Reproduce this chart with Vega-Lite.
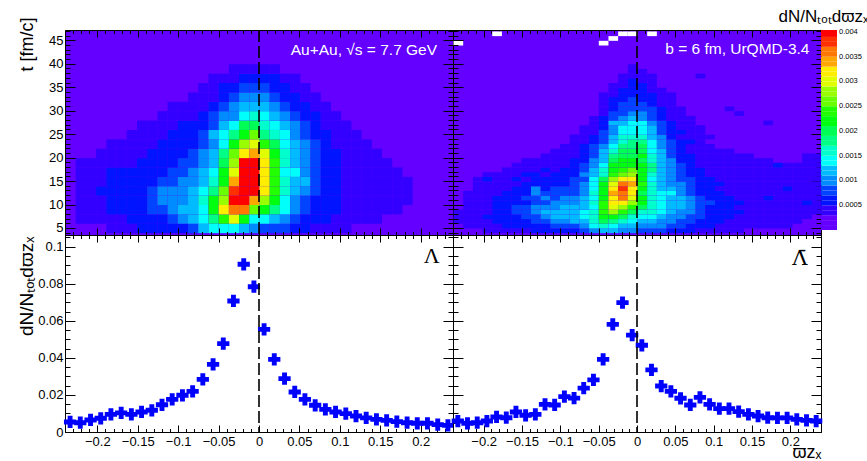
{
  "$schema": "https://vega.github.io/schema/vega-lite/v6.json",
  "padding": {"left": 16, "top": 6, "right": 0, "bottom": 0},
  "background": "white",
  "config": {
    "view": {"stroke": "black", "strokeWidth": 1, "fill": "white"},
    "axis": {"grid": false, "domain": false, "tickColor": "black", "tickWidth": 1, "labelColor": "black", "labelFont": "Liberation Sans", "labelFontSize": 13, "titleFont": "Liberation Sans", "titleFontWeight": "normal", "titleColor": "black", "labelOverlap": false, "labelFlush": false, "format": "~g"},
    "legend": {"labelFont": "Liberation Sans", "titleFont": "Liberation Sans", "titleFontWeight": "normal"}
  },
  "datasets": {
    "lam": [
      {"w": -0.2337, "n": 0.0054}, {"w": -0.2211, "n": 0.0050}, {"w": -0.2084, "n": 0.0065}, {"w": -0.1958, "n": 0.0074},
      {"w": -0.1832, "n": 0.0095}, {"w": -0.1705, "n": 0.0103}, {"w": -0.1579, "n": 0.0095}, {"w": -0.1453, "n": 0.0108},
      {"w": -0.1326, "n": 0.0117}, {"w": -0.1200, "n": 0.0147}, {"w": -0.1074, "n": 0.0176}, {"w": -0.0947, "n": 0.0198},
      {"w": -0.0821, "n": 0.0219}, {"w": -0.0695, "n": 0.0284}, {"w": -0.0568, "n": 0.0365}, {"w": -0.0442, "n": 0.0477},
      {"w": -0.0316, "n": 0.0707}, {"w": -0.0189, "n": 0.0905}, {"w": -0.0063, "n": 0.0784},
      {"w": 0.0063, "n": 0.0554}, {"w": 0.0189, "n": 0.0392}, {"w": 0.0316, "n": 0.0288}, {"w": 0.0442, "n": 0.0216},
      {"w": 0.0568, "n": 0.0176}, {"w": 0.0695, "n": 0.0144}, {"w": 0.0821, "n": 0.0122}, {"w": 0.0947, "n": 0.0108},
      {"w": 0.1074, "n": 0.0099}, {"w": 0.1200, "n": 0.0086}, {"w": 0.1326, "n": 0.0076}, {"w": 0.1453, "n": 0.0068},
      {"w": 0.1579, "n": 0.0063}, {"w": 0.1705, "n": 0.0056}, {"w": 0.1832, "n": 0.0050}, {"w": 0.1958, "n": 0.0047},
      {"w": 0.2084, "n": 0.0047}, {"w": 0.2211, "n": 0.0040}, {"w": 0.2337, "n": 0.0036}
    ],
    "alam": [
      {"w": -0.2337, "n": 0.0059}, {"w": -0.2211, "n": 0.0047}, {"w": -0.2084, "n": 0.0050}, {"w": -0.1958, "n": 0.0059},
      {"w": -0.1832, "n": 0.0081}, {"w": -0.1705, "n": 0.0077}, {"w": -0.1579, "n": 0.0108}, {"w": -0.1453, "n": 0.0090},
      {"w": -0.1326, "n": 0.0095}, {"w": -0.1200, "n": 0.0149}, {"w": -0.1074, "n": 0.0146}, {"w": -0.0947, "n": 0.0191},
      {"w": -0.0821, "n": 0.0183}, {"w": -0.0695, "n": 0.0237}, {"w": -0.0568, "n": 0.0281}, {"w": -0.0442, "n": 0.0392},
      {"w": -0.0316, "n": 0.0581}, {"w": -0.0189, "n": 0.0698}, {"w": -0.0063, "n": 0.0523},
      {"w": 0.0063, "n": 0.0468}, {"w": 0.0189, "n": 0.0335}, {"w": 0.0316, "n": 0.0248}, {"w": 0.0442, "n": 0.0219},
      {"w": 0.0568, "n": 0.0182}, {"w": 0.0695, "n": 0.0146}, {"w": 0.0821, "n": 0.0187}, {"w": 0.0947, "n": 0.0149},
      {"w": 0.1074, "n": 0.0126}, {"w": 0.1200, "n": 0.0126}, {"w": 0.1326, "n": 0.0110}, {"w": 0.1453, "n": 0.0095},
      {"w": 0.1579, "n": 0.0086}, {"w": 0.1705, "n": 0.0077}, {"w": 0.1832, "n": 0.0076}, {"w": 0.1958, "n": 0.0076},
      {"w": 0.2084, "n": 0.0068}, {"w": 0.2211, "n": 0.0063}, {"w": 0.2337, "n": 0.0059}
    ],
    "hL": [
{"w":-0.183,"t":5,"v":0.0003},{"w":-0.171,"t":5,"v":0.0003},{"w":-0.158,"t":5,"v":0.0003},{"w":-0.145,"t":5,"v":0.0005},{"w":-0.133,"t":5,"v":0.0005},{"w":-0.12,"t":5,"v":0.0005},{"w":-0.107,"t":5,"v":0.0005},{"w":-0.095,"t":5,"v":0.0005},{"w":-0.082,"t":5,"v":0.0007},{"w":-0.069,"t":5,"v":0.0011},{"w":-0.057,"t":5,"v":0.0013},{"w":-0.044,"t":5,"v":0.0013},{"w":-0.032,"t":5,"v":0.0013},{"w":-0.019,"t":5,"v":0.0011},{"w":-0.006,"t":5,"v":0.0009},{"w":0.006,"t":5,"v":0.0007},{"w":0.019,"t":5,"v":0.0007},{"w":0.032,"t":5,"v":0.0007},{"w":0.044,"t":5,"v":0.0005},{"w":0.057,"t":5,"v":0.0005},{"w":0.069,"t":5,"v":0.0003},{"w":0.082,"t":5,"v":0.0003},{"w":0.095,"t":5,"v":0.0003},{"w":0.107,"t":5,"v":0.0003},
{"w":-0.221,"t":7,"v":0.0003},{"w":-0.208,"t":7,"v":0.0003},{"w":-0.196,"t":7,"v":0.0003},{"w":-0.183,"t":7,"v":0.0003},{"w":-0.171,"t":7,"v":0.0003},{"w":-0.158,"t":7,"v":0.0005},{"w":-0.145,"t":7,"v":0.0005},{"w":-0.133,"t":7,"v":0.0005},{"w":-0.12,"t":7,"v":0.0005},{"w":-0.107,"t":7,"v":0.0007},{"w":-0.095,"t":7,"v":0.0009},{"w":-0.082,"t":7,"v":0.0011},{"w":-0.069,"t":7,"v":0.0013},{"w":-0.057,"t":7,"v":0.0017},{"w":-0.044,"t":7,"v":0.0023},{"w":-0.032,"t":7,"v":0.0029},{"w":-0.019,"t":7,"v":0.0021},{"w":-0.006,"t":7,"v":0.0013},{"w":0.006,"t":7,"v":0.0013},{"w":0.019,"t":7,"v":0.0011},{"w":0.032,"t":7,"v":0.0009},{"w":0.044,"t":7,"v":0.0007},{"w":0.057,"t":7,"v":0.0005},{"w":0.069,"t":7,"v":0.0005},{"w":0.082,"t":7,"v":0.0005},{"w":0.095,"t":7,"v":0.0003},{"w":0.107,"t":7,"v":0.0003},{"w":0.12,"t":7,"v":0.0003},{"w":0.133,"t":7,"v":0.0003},{"w":0.145,"t":7,"v":0.0003},
{"w":-0.221,"t":9,"v":0.0003},{"w":-0.208,"t":9,"v":0.0003},{"w":-0.196,"t":9,"v":0.0003},{"w":-0.183,"t":9,"v":0.0005},{"w":-0.171,"t":9,"v":0.0005},{"w":-0.158,"t":9,"v":0.0005},{"w":-0.145,"t":9,"v":0.0005},{"w":-0.133,"t":9,"v":0.0007},{"w":-0.12,"t":9,"v":0.0007},{"w":-0.107,"t":9,"v":0.0009},{"w":-0.095,"t":9,"v":0.0011},{"w":-0.082,"t":9,"v":0.0011},{"w":-0.069,"t":9,"v":0.0013},{"w":-0.057,"t":9,"v":0.0021},{"w":-0.044,"t":9,"v":0.0031},{"w":-0.032,"t":9,"v":0.0035},{"w":-0.019,"t":9,"v":0.0035},{"w":-0.006,"t":9,"v":0.0025},{"w":0.006,"t":9,"v":0.0021},{"w":0.019,"t":9,"v":0.0017},{"w":0.032,"t":9,"v":0.0013},{"w":0.044,"t":9,"v":0.0009},{"w":0.057,"t":9,"v":0.0007},{"w":0.069,"t":9,"v":0.0005},{"w":0.082,"t":9,"v":0.0005},{"w":0.095,"t":9,"v":0.0005},{"w":0.107,"t":9,"v":0.0003},{"w":0.12,"t":9,"v":0.0003},{"w":0.133,"t":9,"v":0.0003},{"w":0.145,"t":9,"v":0.0003},{"w":0.158,"t":9,"v":0.0003},{"w":0.171,"t":9,"v":0.0003},
{"w":-0.221,"t":11,"v":0.0003},{"w":-0.208,"t":11,"v":0.0003},{"w":-0.196,"t":11,"v":0.0003},{"w":-0.183,"t":11,"v":0.0005},{"w":-0.171,"t":11,"v":0.0005},{"w":-0.158,"t":11,"v":0.0005},{"w":-0.145,"t":11,"v":0.0005},{"w":-0.133,"t":11,"v":0.0007},{"w":-0.12,"t":11,"v":0.0009},{"w":-0.107,"t":11,"v":0.0009},{"w":-0.095,"t":11,"v":0.0009},{"w":-0.082,"t":11,"v":0.0011},{"w":-0.069,"t":11,"v":0.0015},{"w":-0.057,"t":11,"v":0.0021},{"w":-0.044,"t":11,"v":0.0027},{"w":-0.032,"t":11,"v":0.0039},{"w":-0.019,"t":11,"v":0.0039},{"w":-0.006,"t":11,"v":0.0033},{"w":0.006,"t":11,"v":0.0027},{"w":0.019,"t":11,"v":0.0021},{"w":0.032,"t":11,"v":0.0013},{"w":0.044,"t":11,"v":0.0009},{"w":0.057,"t":11,"v":0.0007},{"w":0.069,"t":11,"v":0.0005},{"w":0.082,"t":11,"v":0.0005},{"w":0.095,"t":11,"v":0.0005},{"w":0.107,"t":11,"v":0.0003},{"w":0.12,"t":11,"v":0.0003},{"w":0.133,"t":11,"v":0.0003},{"w":0.145,"t":11,"v":0.0003},{"w":0.158,"t":11,"v":0.0003},{"w":0.171,"t":11,"v":0.0003},{"w":0.183,"t":11,"v":0.0003},
{"w":-0.221,"t":13,"v":0.0003},{"w":-0.208,"t":13,"v":0.0003},{"w":-0.196,"t":13,"v":0.0005},{"w":-0.183,"t":13,"v":0.0005},{"w":-0.171,"t":13,"v":0.0005},{"w":-0.158,"t":13,"v":0.0005},{"w":-0.145,"t":13,"v":0.0005},{"w":-0.133,"t":13,"v":0.0007},{"w":-0.12,"t":13,"v":0.0009},{"w":-0.107,"t":13,"v":0.0009},{"w":-0.095,"t":13,"v":0.0009},{"w":-0.082,"t":13,"v":0.0011},{"w":-0.069,"t":13,"v":0.0013},{"w":-0.057,"t":13,"v":0.0017},{"w":-0.044,"t":13,"v":0.0025},{"w":-0.032,"t":13,"v":0.0037},{"w":-0.019,"t":13,"v":0.0039},{"w":-0.006,"t":13,"v":0.0039},{"w":0.006,"t":13,"v":0.0031},{"w":0.019,"t":13,"v":0.0023},{"w":0.032,"t":13,"v":0.0015},{"w":0.044,"t":13,"v":0.0011},{"w":0.057,"t":13,"v":0.0009},{"w":0.069,"t":13,"v":0.0007},{"w":0.082,"t":13,"v":0.0005},{"w":0.095,"t":13,"v":0.0005},{"w":0.107,"t":13,"v":0.0003},{"w":0.12,"t":13,"v":0.0003},{"w":0.133,"t":13,"v":0.0003},{"w":0.145,"t":13,"v":0.0003},{"w":0.158,"t":13,"v":0.0003},{"w":0.171,"t":13,"v":0.0003},{"w":0.183,"t":13,"v":0.0003},
{"w":-0.221,"t":15,"v":0.0003},{"w":-0.208,"t":15,"v":0.0003},{"w":-0.196,"t":15,"v":0.0003},{"w":-0.183,"t":15,"v":0.0005},{"w":-0.171,"t":15,"v":0.0005},{"w":-0.158,"t":15,"v":0.0005},{"w":-0.145,"t":15,"v":0.0005},{"w":-0.133,"t":15,"v":0.0005},{"w":-0.12,"t":15,"v":0.0007},{"w":-0.107,"t":15,"v":0.0007},{"w":-0.095,"t":15,"v":0.0009},{"w":-0.082,"t":15,"v":0.0009},{"w":-0.069,"t":15,"v":0.0011},{"w":-0.057,"t":15,"v":0.0015},{"w":-0.044,"t":15,"v":0.0021},{"w":-0.032,"t":15,"v":0.0033},{"w":-0.019,"t":15,"v":0.0039},{"w":-0.006,"t":15,"v":0.0039},{"w":0.006,"t":15,"v":0.0031},{"w":0.019,"t":15,"v":0.0023},{"w":0.032,"t":15,"v":0.0015},{"w":0.044,"t":15,"v":0.0011},{"w":0.057,"t":15,"v":0.0011},{"w":0.069,"t":15,"v":0.0007},{"w":0.082,"t":15,"v":0.0005},{"w":0.095,"t":15,"v":0.0005},{"w":0.107,"t":15,"v":0.0003},{"w":0.12,"t":15,"v":0.0003},{"w":0.133,"t":15,"v":0.0003},{"w":0.145,"t":15,"v":0.0003},{"w":0.158,"t":15,"v":0.0003},{"w":0.171,"t":15,"v":0.0003},{"w":0.183,"t":15,"v":0.0003},
{"w":-0.221,"t":17,"v":0.0003},{"w":-0.208,"t":17,"v":0.0003},{"w":-0.196,"t":17,"v":0.0003},{"w":-0.183,"t":17,"v":0.0005},{"w":-0.171,"t":17,"v":0.0005},{"w":-0.158,"t":17,"v":0.0005},{"w":-0.145,"t":17,"v":0.0005},{"w":-0.133,"t":17,"v":0.0005},{"w":-0.12,"t":17,"v":0.0005},{"w":-0.107,"t":17,"v":0.0007},{"w":-0.095,"t":17,"v":0.0007},{"w":-0.082,"t":17,"v":0.0009},{"w":-0.069,"t":17,"v":0.0011},{"w":-0.057,"t":17,"v":0.0013},{"w":-0.044,"t":17,"v":0.0021},{"w":-0.032,"t":17,"v":0.0029},{"w":-0.019,"t":17,"v":0.0039},{"w":-0.006,"t":17,"v":0.0039},{"w":0.006,"t":17,"v":0.0031},{"w":0.019,"t":17,"v":0.0023},{"w":0.032,"t":17,"v":0.0013},{"w":0.044,"t":17,"v":0.0013},{"w":0.057,"t":17,"v":0.0009},{"w":0.069,"t":17,"v":0.0007},{"w":0.082,"t":17,"v":0.0005},{"w":0.095,"t":17,"v":0.0005},{"w":0.107,"t":17,"v":0.0003},{"w":0.12,"t":17,"v":0.0003},{"w":0.133,"t":17,"v":0.0003},{"w":0.145,"t":17,"v":0.0003},{"w":0.158,"t":17,"v":0.0003},{"w":0.171,"t":17,"v":0.0003},
{"w":-0.221,"t":19,"v":0.0003},{"w":-0.208,"t":19,"v":0.0003},{"w":-0.196,"t":19,"v":0.0003},{"w":-0.183,"t":19,"v":0.0003},{"w":-0.171,"t":19,"v":0.0003},{"w":-0.158,"t":19,"v":0.0003},{"w":-0.145,"t":19,"v":0.0005},{"w":-0.133,"t":19,"v":0.0005},{"w":-0.12,"t":19,"v":0.0005},{"w":-0.107,"t":19,"v":0.0005},{"w":-0.095,"t":19,"v":0.0007},{"w":-0.082,"t":19,"v":0.0007},{"w":-0.069,"t":19,"v":0.0009},{"w":-0.057,"t":19,"v":0.0011},{"w":-0.044,"t":19,"v":0.0019},{"w":-0.032,"t":19,"v":0.0027},{"w":-0.019,"t":19,"v":0.0039},{"w":-0.006,"t":19,"v":0.0039},{"w":0.006,"t":19,"v":0.0031},{"w":0.019,"t":19,"v":0.0023},{"w":0.032,"t":19,"v":0.0015},{"w":0.044,"t":19,"v":0.0011},{"w":0.057,"t":19,"v":0.0009},{"w":0.069,"t":19,"v":0.0007},{"w":0.082,"t":19,"v":0.0005},{"w":0.095,"t":19,"v":0.0005},{"w":0.107,"t":19,"v":0.0003},{"w":0.12,"t":19,"v":0.0003},{"w":0.133,"t":19,"v":0.0003},{"w":0.145,"t":19,"v":0.0003},{"w":0.158,"t":19,"v":0.0003},
{"w":-0.196,"t":21,"v":0.0003},{"w":-0.183,"t":21,"v":0.0003},{"w":-0.171,"t":21,"v":0.0003},{"w":-0.158,"t":21,"v":0.0003},{"w":-0.145,"t":21,"v":0.0003},{"w":-0.133,"t":21,"v":0.0005},{"w":-0.12,"t":21,"v":0.0005},{"w":-0.107,"t":21,"v":0.0005},{"w":-0.095,"t":21,"v":0.0005},{"w":-0.082,"t":21,"v":0.0007},{"w":-0.069,"t":21,"v":0.0009},{"w":-0.057,"t":21,"v":0.0011},{"w":-0.044,"t":21,"v":0.0017},{"w":-0.032,"t":21,"v":0.0025},{"w":-0.019,"t":21,"v":0.0031},{"w":-0.006,"t":21,"v":0.0033},{"w":0.006,"t":21,"v":0.0029},{"w":0.019,"t":21,"v":0.0021},{"w":0.032,"t":21,"v":0.0015},{"w":0.044,"t":21,"v":0.0011},{"w":0.057,"t":21,"v":0.0009},{"w":0.069,"t":21,"v":0.0007},{"w":0.082,"t":21,"v":0.0005},{"w":0.095,"t":21,"v":0.0005},{"w":0.107,"t":21,"v":0.0003},{"w":0.12,"t":21,"v":0.0003},{"w":0.133,"t":21,"v":0.0003},{"w":0.145,"t":21,"v":0.0003},
{"w":-0.183,"t":23,"v":0.0003},{"w":-0.171,"t":23,"v":0.0003},{"w":-0.158,"t":23,"v":0.0003},{"w":-0.145,"t":23,"v":0.0003},{"w":-0.133,"t":23,"v":0.0003},{"w":-0.12,"t":23,"v":0.0005},{"w":-0.107,"t":23,"v":0.0005},{"w":-0.095,"t":23,"v":0.0005},{"w":-0.082,"t":23,"v":0.0005},{"w":-0.069,"t":23,"v":0.0007},{"w":-0.057,"t":23,"v":0.0009},{"w":-0.044,"t":23,"v":0.0013},{"w":-0.032,"t":23,"v":0.0021},{"w":-0.019,"t":23,"v":0.0027},{"w":-0.006,"t":23,"v":0.0029},{"w":0.006,"t":23,"v":0.0023},{"w":0.019,"t":23,"v":0.0019},{"w":0.032,"t":23,"v":0.0013},{"w":0.044,"t":23,"v":0.0011},{"w":0.057,"t":23,"v":0.0009},{"w":0.069,"t":23,"v":0.0007},{"w":0.082,"t":23,"v":0.0005},{"w":0.095,"t":23,"v":0.0003},{"w":0.107,"t":23,"v":0.0003},{"w":0.12,"t":23,"v":0.0003},{"w":0.133,"t":23,"v":0.0003},
{"w":-0.158,"t":25,"v":0.0003},{"w":-0.145,"t":25,"v":0.0003},{"w":-0.133,"t":25,"v":0.0003},{"w":-0.12,"t":25,"v":0.0003},{"w":-0.107,"t":25,"v":0.0005},{"w":-0.095,"t":25,"v":0.0005},{"w":-0.082,"t":25,"v":0.0005},{"w":-0.069,"t":25,"v":0.0007},{"w":-0.057,"t":25,"v":0.0011},{"w":-0.044,"t":25,"v":0.0013},{"w":-0.032,"t":25,"v":0.0017},{"w":-0.019,"t":25,"v":0.0021},{"w":-0.006,"t":25,"v":0.0025},{"w":0.006,"t":25,"v":0.0017},{"w":0.019,"t":25,"v":0.0015},{"w":0.032,"t":25,"v":0.0013},{"w":0.044,"t":25,"v":0.0009},{"w":0.057,"t":25,"v":0.0007},{"w":0.069,"t":25,"v":0.0005},{"w":0.082,"t":25,"v":0.0005},{"w":0.095,"t":25,"v":0.0003},{"w":0.107,"t":25,"v":0.0003},{"w":0.12,"t":25,"v":0.0003},
{"w":-0.145,"t":27,"v":0.0003},{"w":-0.133,"t":27,"v":0.0003},{"w":-0.12,"t":27,"v":0.0003},{"w":-0.107,"t":27,"v":0.0003},{"w":-0.095,"t":27,"v":0.0005},{"w":-0.082,"t":27,"v":0.0005},{"w":-0.069,"t":27,"v":0.0005},{"w":-0.057,"t":27,"v":0.0007},{"w":-0.044,"t":27,"v":0.0011},{"w":-0.032,"t":27,"v":0.0013},{"w":-0.019,"t":27,"v":0.0019},{"w":-0.006,"t":27,"v":0.0019},{"w":0.006,"t":27,"v":0.0015},{"w":0.019,"t":27,"v":0.0013},{"w":0.032,"t":27,"v":0.0011},{"w":0.044,"t":27,"v":0.0009},{"w":0.057,"t":27,"v":0.0007},{"w":0.069,"t":27,"v":0.0005},{"w":0.082,"t":27,"v":0.0003},{"w":0.095,"t":27,"v":0.0003},{"w":0.107,"t":27,"v":0.0003},
{"w":-0.12,"t":29,"v":0.0003},{"w":-0.107,"t":29,"v":0.0003},{"w":-0.095,"t":29,"v":0.0003},{"w":-0.082,"t":29,"v":0.0003},{"w":-0.069,"t":29,"v":0.0005},{"w":-0.057,"t":29,"v":0.0007},{"w":-0.044,"t":29,"v":0.0009},{"w":-0.032,"t":29,"v":0.0009},{"w":-0.019,"t":29,"v":0.0013},{"w":-0.006,"t":29,"v":0.0015},{"w":0.006,"t":29,"v":0.0013},{"w":0.019,"t":29,"v":0.0011},{"w":0.032,"t":29,"v":0.0009},{"w":0.044,"t":29,"v":0.0007},{"w":0.057,"t":29,"v":0.0005},{"w":0.069,"t":29,"v":0.0005},{"w":0.082,"t":29,"v":0.0003},{"w":0.095,"t":29,"v":0.0003},
{"w":-0.107,"t":31,"v":0.0003},{"w":-0.095,"t":31,"v":0.0003},{"w":-0.082,"t":31,"v":0.0003},{"w":-0.069,"t":31,"v":0.0003},{"w":-0.057,"t":31,"v":0.0005},{"w":-0.044,"t":31,"v":0.0007},{"w":-0.032,"t":31,"v":0.0009},{"w":-0.019,"t":31,"v":0.0011},{"w":-0.006,"t":31,"v":0.0011},{"w":0.006,"t":31,"v":0.0011},{"w":0.019,"t":31,"v":0.0009},{"w":0.032,"t":31,"v":0.0007},{"w":0.044,"t":31,"v":0.0005},{"w":0.057,"t":31,"v":0.0005},{"w":0.069,"t":31,"v":0.0003},{"w":0.082,"t":31,"v":0.0003},
{"w":-0.082,"t":33,"v":0.0003},{"w":-0.069,"t":33,"v":0.0003},{"w":-0.057,"t":33,"v":0.0003},{"w":-0.044,"t":33,"v":0.0005},{"w":-0.032,"t":33,"v":0.0007},{"w":-0.019,"t":33,"v":0.0009},{"w":-0.006,"t":33,"v":0.0009},{"w":0.006,"t":33,"v":0.0009},{"w":0.019,"t":33,"v":0.0007},{"w":0.032,"t":33,"v":0.0005},{"w":0.044,"t":33,"v":0.0005},{"w":0.057,"t":33,"v":0.0003},{"w":0.069,"t":33,"v":0.0003},
{"w":-0.069,"t":35,"v":0.0003},{"w":-0.057,"t":35,"v":0.0003},{"w":-0.044,"t":35,"v":0.0005},{"w":-0.032,"t":35,"v":0.0005},{"w":-0.019,"t":35,"v":0.0007},{"w":-0.006,"t":35,"v":0.0007},{"w":0.006,"t":35,"v":0.0007},{"w":0.019,"t":35,"v":0.0005},{"w":0.032,"t":35,"v":0.0005},{"w":0.044,"t":35,"v":0.0003},{"w":0.057,"t":35,"v":0.0003},
{"w":-0.057,"t":37,"v":0.0003},{"w":-0.044,"t":37,"v":0.0003},{"w":-0.032,"t":37,"v":0.0003},{"w":-0.019,"t":37,"v":0.0005},{"w":-0.006,"t":37,"v":0.0005},{"w":0.006,"t":37,"v":0.0005},{"w":0.019,"t":37,"v":0.0005},{"w":0.032,"t":37,"v":0.0003},{"w":0.044,"t":37,"v":0.0003},
{"w":-0.032,"t":39,"v":0.0003},{"w":-0.019,"t":39,"v":0.0003},{"w":-0.006,"t":39,"v":0.0003},{"w":0.006,"t":39,"v":0.0003},{"w":0.019,"t":39,"v":0.0003}
    ],
    "hA": [
{"w":-0.196,"t":4.5,"v":0.0003},{"w":-0.183,"t":4.5,"v":0.0003},{"w":-0.171,"t":4.5,"v":0.0003},{"w":-0.158,"t":4.5,"v":0.0003},{"w":-0.145,"t":4.5,"v":0.0003},{"w":-0.133,"t":4.5,"v":0.0005},{"w":-0.12,"t":4.5,"v":0.0005},{"w":-0.107,"t":4.5,"v":0.0005},{"w":-0.095,"t":4.5,"v":0.0005},{"w":-0.082,"t":4.5,"v":0.0005},{"w":-0.069,"t":4.5,"v":0.0007},{"w":-0.057,"t":4.5,"v":0.0009},{"w":-0.044,"t":4.5,"v":0.0011},{"w":-0.032,"t":4.5,"v":0.0011},{"w":-0.019,"t":4.5,"v":0.0009},{"w":-0.006,"t":4.5,"v":0.0009},{"w":0.006,"t":4.5,"v":0.0007},{"w":0.019,"t":4.5,"v":0.0007},{"w":0.032,"t":4.5,"v":0.0007},{"w":0.044,"t":4.5,"v":0.0005},{"w":0.057,"t":4.5,"v":0.0005},{"w":0.069,"t":4.5,"v":0.0005},{"w":0.082,"t":4.5,"v":0.0003},{"w":0.095,"t":4.5,"v":0.0003},{"w":0.107,"t":4.5,"v":0.0003},{"w":0.12,"t":4.5,"v":0.0003},{"w":0.133,"t":4.5,"v":0.0003},
{"w":-0.221,"t":5.5,"v":0.0003},{"w":-0.208,"t":5.5,"v":0.0003},{"w":-0.196,"t":5.5,"v":0.0003},{"w":-0.183,"t":5.5,"v":0.0003},{"w":-0.171,"t":5.5,"v":0.0005},{"w":-0.158,"t":5.5,"v":0.0005},{"w":-0.145,"t":5.5,"v":0.0005},{"w":-0.133,"t":5.5,"v":0.0005},{"w":-0.12,"t":5.5,"v":0.0005},{"w":-0.107,"t":5.5,"v":0.0007},{"w":-0.095,"t":5.5,"v":0.0007},{"w":-0.082,"t":5.5,"v":0.0007},{"w":-0.069,"t":5.5,"v":0.0009},{"w":-0.057,"t":5.5,"v":0.0013},{"w":-0.044,"t":5.5,"v":0.0015},{"w":-0.032,"t":5.5,"v":0.0013},{"w":-0.019,"t":5.5,"v":0.0011},{"w":-0.006,"t":5.5,"v":0.0011},{"w":0.006,"t":5.5,"v":0.0009},{"w":0.019,"t":5.5,"v":0.0009},{"w":0.032,"t":5.5,"v":0.0009},{"w":0.044,"t":5.5,"v":0.0007},{"w":0.057,"t":5.5,"v":0.0007},{"w":0.069,"t":5.5,"v":0.0005},{"w":0.082,"t":5.5,"v":0.0005},{"w":0.095,"t":5.5,"v":0.0005},{"w":0.107,"t":5.5,"v":0.0003},{"w":0.12,"t":5.5,"v":0.0003},{"w":0.133,"t":5.5,"v":0.0003},{"w":0.145,"t":5.5,"v":0.0003},{"w":0.158,"t":5.5,"v":0.0003},{"w":0.171,"t":5.5,"v":0.0003},{"w":0.183,"t":5.5,"v":0.0003},{"w":0.196,"t":5.5,"v":0.0003},
{"w":-0.234,"t":6.5,"v":0.0003},{"w":-0.221,"t":6.5,"v":0.0003},{"w":-0.208,"t":6.5,"v":0.0003},{"w":-0.196,"t":6.5,"v":0.0003},{"w":-0.183,"t":6.5,"v":0.0005},{"w":-0.171,"t":6.5,"v":0.0005},{"w":-0.158,"t":6.5,"v":0.0005},{"w":-0.145,"t":6.5,"v":0.0005},{"w":-0.133,"t":6.5,"v":0.0007},{"w":-0.12,"t":6.5,"v":0.0007},{"w":-0.107,"t":6.5,"v":0.0009},{"w":-0.095,"t":6.5,"v":0.0009},{"w":-0.082,"t":6.5,"v":0.0011},{"w":-0.069,"t":6.5,"v":0.0011},{"w":-0.057,"t":6.5,"v":0.0015},{"w":-0.044,"t":6.5,"v":0.0019},{"w":-0.032,"t":6.5,"v":0.0017},{"w":-0.019,"t":6.5,"v":0.0015},{"w":-0.006,"t":6.5,"v":0.0013},{"w":0.006,"t":6.5,"v":0.0011},{"w":0.019,"t":6.5,"v":0.0011},{"w":0.032,"t":6.5,"v":0.0009},{"w":0.044,"t":6.5,"v":0.0009},{"w":0.057,"t":6.5,"v":0.0007},{"w":0.069,"t":6.5,"v":0.0007},{"w":0.082,"t":6.5,"v":0.0005},{"w":0.095,"t":6.5,"v":0.0005},{"w":0.107,"t":6.5,"v":0.0005},{"w":0.12,"t":6.5,"v":0.0003},{"w":0.133,"t":6.5,"v":0.0003},{"w":0.145,"t":6.5,"v":0.0003},{"w":0.158,"t":6.5,"v":0.0003},{"w":0.171,"t":6.5,"v":0.0003},{"w":0.183,"t":6.5,"v":0.0003},{"w":0.196,"t":6.5,"v":0.0003},{"w":0.208,"t":6.5,"v":0.0003},
{"w":-0.234,"t":7.5,"v":0.0003},{"w":-0.221,"t":7.5,"v":0.0003},{"w":-0.208,"t":7.5,"v":0.0003},{"w":-0.196,"t":7.5,"v":0.0005},{"w":-0.183,"t":7.5,"v":0.0005},{"w":-0.171,"t":7.5,"v":0.0005},{"w":-0.158,"t":7.5,"v":0.0005},{"w":-0.145,"t":7.5,"v":0.0007},{"w":-0.133,"t":7.5,"v":0.0007},{"w":-0.12,"t":7.5,"v":0.0009},{"w":-0.107,"t":7.5,"v":0.0011},{"w":-0.095,"t":7.5,"v":0.0011},{"w":-0.082,"t":7.5,"v":0.0011},{"w":-0.069,"t":7.5,"v":0.0013},{"w":-0.057,"t":7.5,"v":0.0015},{"w":-0.044,"t":7.5,"v":0.0021},{"w":-0.032,"t":7.5,"v":0.0021},{"w":-0.019,"t":7.5,"v":0.0019},{"w":-0.006,"t":7.5,"v":0.0015},{"w":0.006,"t":7.5,"v":0.0013},{"w":0.019,"t":7.5,"v":0.0013},{"w":0.032,"t":7.5,"v":0.0011},{"w":0.044,"t":7.5,"v":0.0009},{"w":0.057,"t":7.5,"v":0.0009},{"w":0.069,"t":7.5,"v":0.0007},{"w":0.082,"t":7.5,"v":0.0007},{"w":0.095,"t":7.5,"v":0.0005},{"w":0.107,"t":7.5,"v":0.0005},{"w":0.12,"t":7.5,"v":0.0005},{"w":0.133,"t":7.5,"v":0.0003},{"w":0.145,"t":7.5,"v":0.0003},{"w":0.158,"t":7.5,"v":0.0003},{"w":0.171,"t":7.5,"v":0.0003},{"w":0.183,"t":7.5,"v":0.0003},{"w":0.196,"t":7.5,"v":0.0003},{"w":0.208,"t":7.5,"v":0.0003},{"w":0.221,"t":7.5,"v":0.0003},
{"w":-0.234,"t":8.5,"v":0.0003},{"w":-0.221,"t":8.5,"v":0.0003},{"w":-0.208,"t":8.5,"v":0.0003},{"w":-0.196,"t":8.5,"v":0.0003},{"w":-0.183,"t":8.5,"v":0.0005},{"w":-0.171,"t":8.5,"v":0.0005},{"w":-0.158,"t":8.5,"v":0.0007},{"w":-0.145,"t":8.5,"v":0.0007},{"w":-0.133,"t":8.5,"v":0.0009},{"w":-0.12,"t":8.5,"v":0.0011},{"w":-0.107,"t":8.5,"v":0.0011},{"w":-0.095,"t":8.5,"v":0.0011},{"w":-0.082,"t":8.5,"v":0.0011},{"w":-0.069,"t":8.5,"v":0.0013},{"w":-0.057,"t":8.5,"v":0.0015},{"w":-0.044,"t":8.5,"v":0.0023},{"w":-0.032,"t":8.5,"v":0.0027},{"w":-0.019,"t":8.5,"v":0.0023},{"w":-0.006,"t":8.5,"v":0.0019},{"w":0.006,"t":8.5,"v":0.0015},{"w":0.019,"t":8.5,"v":0.0015},{"w":0.032,"t":8.5,"v":0.0013},{"w":0.044,"t":8.5,"v":0.0011},{"w":0.057,"t":8.5,"v":0.0009},{"w":0.069,"t":8.5,"v":0.0009},{"w":0.082,"t":8.5,"v":0.0007},{"w":0.095,"t":8.5,"v":0.0005},{"w":0.107,"t":8.5,"v":0.0005},{"w":0.12,"t":8.5,"v":0.0005},{"w":0.133,"t":8.5,"v":0.0005},{"w":0.145,"t":8.5,"v":0.0003},{"w":0.158,"t":8.5,"v":0.0003},{"w":0.171,"t":8.5,"v":0.0003},{"w":0.183,"t":8.5,"v":0.0003},{"w":0.196,"t":8.5,"v":0.0003},{"w":0.208,"t":8.5,"v":0.0003},{"w":0.221,"t":8.5,"v":0.0003},{"w":0.234,"t":8.5,"v":0.0003},
{"w":-0.221,"t":9.5,"v":0.0003},{"w":-0.208,"t":9.5,"v":0.0003},{"w":-0.196,"t":9.5,"v":0.0003},{"w":-0.183,"t":9.5,"v":0.0005},{"w":-0.171,"t":9.5,"v":0.0005},{"w":-0.158,"t":9.5,"v":0.0007},{"w":-0.145,"t":9.5,"v":0.0007},{"w":-0.133,"t":9.5,"v":0.0009},{"w":-0.12,"t":9.5,"v":0.0009},{"w":-0.107,"t":9.5,"v":0.0009},{"w":-0.095,"t":9.5,"v":0.0011},{"w":-0.082,"t":9.5,"v":0.0011},{"w":-0.069,"t":9.5,"v":0.0011},{"w":-0.057,"t":9.5,"v":0.0013},{"w":-0.044,"t":9.5,"v":0.0023},{"w":-0.032,"t":9.5,"v":0.0029},{"w":-0.019,"t":9.5,"v":0.0027},{"w":-0.006,"t":9.5,"v":0.0023},{"w":0.006,"t":9.5,"v":0.0019},{"w":0.019,"t":9.5,"v":0.0015},{"w":0.032,"t":9.5,"v":0.0013},{"w":0.044,"t":9.5,"v":0.0011},{"w":0.057,"t":9.5,"v":0.0011},{"w":0.069,"t":9.5,"v":0.0009},{"w":0.082,"t":9.5,"v":0.0007},{"w":0.095,"t":9.5,"v":0.0005},{"w":0.107,"t":9.5,"v":0.0005},{"w":0.12,"t":9.5,"v":0.0005},{"w":0.133,"t":9.5,"v":0.0003},{"w":0.145,"t":9.5,"v":0.0003},{"w":0.158,"t":9.5,"v":0.0003},{"w":0.171,"t":9.5,"v":0.0003},{"w":0.183,"t":9.5,"v":0.0003},{"w":0.196,"t":9.5,"v":0.0003},{"w":0.208,"t":9.5,"v":0.0003},{"w":0.221,"t":9.5,"v":0.0003},{"w":0.234,"t":9.5,"v":0.0003},
{"w":-0.221,"t":10.5,"v":0.0003},{"w":-0.208,"t":10.5,"v":0.0003},{"w":-0.196,"t":10.5,"v":0.0003},{"w":-0.183,"t":10.5,"v":0.0005},{"w":-0.171,"t":10.5,"v":0.0005},{"w":-0.158,"t":10.5,"v":0.0005},{"w":-0.145,"t":10.5,"v":0.0005},{"w":-0.133,"t":10.5,"v":0.0007},{"w":-0.12,"t":10.5,"v":0.0007},{"w":-0.107,"t":10.5,"v":0.0009},{"w":-0.095,"t":10.5,"v":0.0009},{"w":-0.082,"t":10.5,"v":0.0009},{"w":-0.069,"t":10.5,"v":0.0011},{"w":-0.057,"t":10.5,"v":0.0015},{"w":-0.044,"t":10.5,"v":0.0023},{"w":-0.032,"t":10.5,"v":0.0031},{"w":-0.019,"t":10.5,"v":0.0031},{"w":-0.006,"t":10.5,"v":0.0027},{"w":0.006,"t":10.5,"v":0.0021},{"w":0.019,"t":10.5,"v":0.0015},{"w":0.032,"t":10.5,"v":0.0013},{"w":0.044,"t":10.5,"v":0.0011},{"w":0.057,"t":10.5,"v":0.0011},{"w":0.069,"t":10.5,"v":0.0009},{"w":0.082,"t":10.5,"v":0.0007},{"w":0.095,"t":10.5,"v":0.0007},{"w":0.107,"t":10.5,"v":0.0005},{"w":0.12,"t":10.5,"v":0.0005},{"w":0.133,"t":10.5,"v":0.0005},{"w":0.145,"t":10.5,"v":0.0003},{"w":0.158,"t":10.5,"v":0.0003},{"w":0.171,"t":10.5,"v":0.0003},{"w":0.183,"t":10.5,"v":0.0003},{"w":0.196,"t":10.5,"v":0.0003},{"w":0.208,"t":10.5,"v":0.0003},{"w":0.221,"t":10.5,"v":0.0005},{"w":0.234,"t":10.5,"v":0.0003},
{"w":-0.221,"t":11.5,"v":0.0003},{"w":-0.208,"t":11.5,"v":0.0003},{"w":-0.196,"t":11.5,"v":0.0003},{"w":-0.183,"t":11.5,"v":0.0005},{"w":-0.171,"t":11.5,"v":0.0005},{"w":-0.158,"t":11.5,"v":0.0005},{"w":-0.145,"t":11.5,"v":0.0007},{"w":-0.133,"t":11.5,"v":0.0007},{"w":-0.12,"t":11.5,"v":0.0009},{"w":-0.107,"t":11.5,"v":0.0007},{"w":-0.095,"t":11.5,"v":0.0009},{"w":-0.082,"t":11.5,"v":0.0009},{"w":-0.069,"t":11.5,"v":0.0011},{"w":-0.057,"t":11.5,"v":0.0013},{"w":-0.044,"t":11.5,"v":0.0021},{"w":-0.032,"t":11.5,"v":0.0031},{"w":-0.019,"t":11.5,"v":0.0035},{"w":-0.006,"t":11.5,"v":0.0029},{"w":0.006,"t":11.5,"v":0.0021},{"w":0.019,"t":11.5,"v":0.0015},{"w":0.032,"t":11.5,"v":0.0013},{"w":0.044,"t":11.5,"v":0.0011},{"w":0.057,"t":11.5,"v":0.0011},{"w":0.069,"t":11.5,"v":0.0009},{"w":0.082,"t":11.5,"v":0.0007},{"w":0.095,"t":11.5,"v":0.0005},{"w":0.107,"t":11.5,"v":0.0005},{"w":0.12,"t":11.5,"v":0.0005},{"w":0.133,"t":11.5,"v":0.0003},{"w":0.145,"t":11.5,"v":0.0003},{"w":0.158,"t":11.5,"v":0.0003},{"w":0.171,"t":11.5,"v":0.0005},{"w":0.183,"t":11.5,"v":0.0003},{"w":0.196,"t":11.5,"v":0.0003},{"w":0.208,"t":11.5,"v":0.0003},{"w":0.221,"t":11.5,"v":0.0003},{"w":0.234,"t":11.5,"v":0.0003},
{"w":-0.221,"t":12.5,"v":0.0003},{"w":-0.208,"t":12.5,"v":0.0003},{"w":-0.196,"t":12.5,"v":0.0003},{"w":-0.183,"t":12.5,"v":0.0003},{"w":-0.171,"t":12.5,"v":0.0005},{"w":-0.158,"t":12.5,"v":0.0005},{"w":-0.145,"t":12.5,"v":0.0005},{"w":-0.133,"t":12.5,"v":0.0009},{"w":-0.12,"t":12.5,"v":0.0007},{"w":-0.107,"t":12.5,"v":0.0007},{"w":-0.095,"t":12.5,"v":0.0007},{"w":-0.082,"t":12.5,"v":0.0007},{"w":-0.069,"t":12.5,"v":0.0009},{"w":-0.057,"t":12.5,"v":0.0015},{"w":-0.044,"t":12.5,"v":0.0021},{"w":-0.032,"t":12.5,"v":0.0033},{"w":-0.019,"t":12.5,"v":0.0035},{"w":-0.006,"t":12.5,"v":0.0031},{"w":0.006,"t":12.5,"v":0.0019},{"w":0.019,"t":12.5,"v":0.0015},{"w":0.032,"t":12.5,"v":0.0013},{"w":0.044,"t":12.5,"v":0.0013},{"w":0.057,"t":12.5,"v":0.0009},{"w":0.069,"t":12.5,"v":0.0007},{"w":0.082,"t":12.5,"v":0.0005},{"w":0.095,"t":12.5,"v":0.0005},{"w":0.107,"t":12.5,"v":0.0005},{"w":0.12,"t":12.5,"v":0.0003},{"w":0.133,"t":12.5,"v":0.0003},{"w":0.145,"t":12.5,"v":0.0003},{"w":0.158,"t":12.5,"v":0.0003},{"w":0.171,"t":12.5,"v":0.0003},{"w":0.183,"t":12.5,"v":0.0003},{"w":0.196,"t":12.5,"v":0.0003},{"w":0.208,"t":12.5,"v":0.0003},{"w":0.221,"t":12.5,"v":0.0003},{"w":0.234,"t":12.5,"v":0.0003},
{"w":-0.208,"t":13.5,"v":0.0003},{"w":-0.196,"t":13.5,"v":0.0003},{"w":-0.183,"t":13.5,"v":0.0003},{"w":-0.171,"t":13.5,"v":0.0003},{"w":-0.158,"t":13.5,"v":0.0005},{"w":-0.145,"t":13.5,"v":0.0005},{"w":-0.133,"t":13.5,"v":0.0009},{"w":-0.12,"t":13.5,"v":0.0005},{"w":-0.107,"t":13.5,"v":0.0007},{"w":-0.095,"t":13.5,"v":0.0007},{"w":-0.082,"t":13.5,"v":0.0007},{"w":-0.069,"t":13.5,"v":0.0009},{"w":-0.057,"t":13.5,"v":0.0013},{"w":-0.044,"t":13.5,"v":0.0021},{"w":-0.032,"t":13.5,"v":0.0031},{"w":-0.019,"t":13.5,"v":0.0037},{"w":-0.006,"t":13.5,"v":0.0031},{"w":0.006,"t":13.5,"v":0.0021},{"w":0.019,"t":13.5,"v":0.0015},{"w":0.032,"t":13.5,"v":0.0011},{"w":0.044,"t":13.5,"v":0.0011},{"w":0.057,"t":13.5,"v":0.0009},{"w":0.069,"t":13.5,"v":0.0007},{"w":0.082,"t":13.5,"v":0.0005},{"w":0.095,"t":13.5,"v":0.0005},{"w":0.107,"t":13.5,"v":0.0003},{"w":0.12,"t":13.5,"v":0.0003},{"w":0.133,"t":13.5,"v":0.0003},{"w":0.145,"t":13.5,"v":0.0003},{"w":0.158,"t":13.5,"v":0.0003},{"w":0.171,"t":13.5,"v":0.0003},{"w":0.183,"t":13.5,"v":0.0003},{"w":0.196,"t":13.5,"v":0.0005},{"w":0.208,"t":13.5,"v":0.0003},{"w":0.221,"t":13.5,"v":0.0003},{"w":0.234,"t":13.5,"v":0.0003},
{"w":-0.208,"t":14.5,"v":0.0003},{"w":-0.196,"t":14.5,"v":0.0003},{"w":-0.183,"t":14.5,"v":0.0003},{"w":-0.171,"t":14.5,"v":0.0003},{"w":-0.158,"t":14.5,"v":0.0003},{"w":-0.145,"t":14.5,"v":0.0005},{"w":-0.133,"t":14.5,"v":0.0005},{"w":-0.12,"t":14.5,"v":0.0005},{"w":-0.107,"t":14.5,"v":0.0005},{"w":-0.095,"t":14.5,"v":0.0005},{"w":-0.082,"t":14.5,"v":0.0007},{"w":-0.069,"t":14.5,"v":0.0009},{"w":-0.057,"t":14.5,"v":0.0013},{"w":-0.044,"t":14.5,"v":0.0021},{"w":-0.032,"t":14.5,"v":0.0029},{"w":-0.019,"t":14.5,"v":0.0035},{"w":-0.006,"t":14.5,"v":0.0033},{"w":0.006,"t":14.5,"v":0.0023},{"w":0.019,"t":14.5,"v":0.0015},{"w":0.032,"t":14.5,"v":0.0011},{"w":0.044,"t":14.5,"v":0.0009},{"w":0.057,"t":14.5,"v":0.0009},{"w":0.069,"t":14.5,"v":0.0007},{"w":0.082,"t":14.5,"v":0.0005},{"w":0.095,"t":14.5,"v":0.0005},{"w":0.107,"t":14.5,"v":0.0005},{"w":0.12,"t":14.5,"v":0.0003},{"w":0.133,"t":14.5,"v":0.0003},{"w":0.145,"t":14.5,"v":0.0003},{"w":0.158,"t":14.5,"v":0.0003},{"w":0.171,"t":14.5,"v":0.0003},{"w":0.183,"t":14.5,"v":0.0003},{"w":0.196,"t":14.5,"v":0.0003},{"w":0.208,"t":14.5,"v":0.0003},{"w":0.221,"t":14.5,"v":0.0003},{"w":0.234,"t":14.5,"v":0.0003},
{"w":-0.208,"t":15.5,"v":0.0003},{"w":-0.196,"t":15.5,"v":0.0005},{"w":-0.183,"t":15.5,"v":0.0003},{"w":-0.171,"t":15.5,"v":0.0003},{"w":-0.158,"t":15.5,"v":0.0005},{"w":-0.145,"t":15.5,"v":0.0003},{"w":-0.133,"t":15.5,"v":0.0005},{"w":-0.12,"t":15.5,"v":0.0005},{"w":-0.107,"t":15.5,"v":0.0005},{"w":-0.095,"t":15.5,"v":0.0005},{"w":-0.082,"t":15.5,"v":0.0007},{"w":-0.069,"t":15.5,"v":0.0007},{"w":-0.057,"t":15.5,"v":0.0013},{"w":-0.044,"t":15.5,"v":0.0019},{"w":-0.032,"t":15.5,"v":0.0027},{"w":-0.019,"t":15.5,"v":0.0031},{"w":-0.006,"t":15.5,"v":0.0031},{"w":0.006,"t":15.5,"v":0.0021},{"w":0.019,"t":15.5,"v":0.0013},{"w":0.032,"t":15.5,"v":0.0011},{"w":0.044,"t":15.5,"v":0.0009},{"w":0.057,"t":15.5,"v":0.0007},{"w":0.069,"t":15.5,"v":0.0007},{"w":0.082,"t":15.5,"v":0.0005},{"w":0.095,"t":15.5,"v":0.0005},{"w":0.107,"t":15.5,"v":0.0003},{"w":0.12,"t":15.5,"v":0.0003},{"w":0.133,"t":15.5,"v":0.0003},{"w":0.145,"t":15.5,"v":0.0003},{"w":0.158,"t":15.5,"v":0.0003},{"w":0.171,"t":15.5,"v":0.0003},{"w":0.183,"t":15.5,"v":0.0003},{"w":0.196,"t":15.5,"v":0.0003},{"w":0.208,"t":15.5,"v":0.0003},{"w":0.221,"t":15.5,"v":0.0003},{"w":0.234,"t":15.5,"v":0.0003},
{"w":-0.196,"t":16.5,"v":0.0003},{"w":-0.183,"t":16.5,"v":0.0003},{"w":-0.171,"t":16.5,"v":0.0003},{"w":-0.158,"t":16.5,"v":0.0003},{"w":-0.145,"t":16.5,"v":0.0005},{"w":-0.133,"t":16.5,"v":0.0005},{"w":-0.12,"t":16.5,"v":0.0003},{"w":-0.107,"t":16.5,"v":0.0005},{"w":-0.095,"t":16.5,"v":0.0005},{"w":-0.082,"t":16.5,"v":0.0005},{"w":-0.069,"t":16.5,"v":0.0009},{"w":-0.057,"t":16.5,"v":0.0011},{"w":-0.044,"t":16.5,"v":0.0015},{"w":-0.032,"t":16.5,"v":0.0023},{"w":-0.019,"t":16.5,"v":0.0025},{"w":-0.006,"t":16.5,"v":0.0027},{"w":0.006,"t":16.5,"v":0.0021},{"w":0.019,"t":16.5,"v":0.0015},{"w":0.032,"t":16.5,"v":0.0011},{"w":0.044,"t":16.5,"v":0.0009},{"w":0.057,"t":16.5,"v":0.0007},{"w":0.069,"t":16.5,"v":0.0005},{"w":0.082,"t":16.5,"v":0.0005},{"w":0.095,"t":16.5,"v":0.0003},{"w":0.107,"t":16.5,"v":0.0003},{"w":0.12,"t":16.5,"v":0.0003},{"w":0.133,"t":16.5,"v":0.0003},{"w":0.145,"t":16.5,"v":0.0003},{"w":0.158,"t":16.5,"v":0.0003},{"w":0.171,"t":16.5,"v":0.0003},{"w":0.183,"t":16.5,"v":0.0003},{"w":0.196,"t":16.5,"v":0.0003},{"w":0.208,"t":16.5,"v":0.0003},{"w":0.221,"t":16.5,"v":0.0003},{"w":0.234,"t":16.5,"v":0.0003},
{"w":-0.171,"t":17.5,"v":0.0003},{"w":-0.158,"t":17.5,"v":0.0003},{"w":-0.145,"t":17.5,"v":0.0003},{"w":-0.133,"t":17.5,"v":0.0003},{"w":-0.12,"t":17.5,"v":0.0005},{"w":-0.107,"t":17.5,"v":0.0003},{"w":-0.095,"t":17.5,"v":0.0005},{"w":-0.082,"t":17.5,"v":0.0005},{"w":-0.069,"t":17.5,"v":0.0007},{"w":-0.057,"t":17.5,"v":0.0011},{"w":-0.044,"t":17.5,"v":0.0015},{"w":-0.032,"t":17.5,"v":0.0021},{"w":-0.019,"t":17.5,"v":0.0023},{"w":-0.006,"t":17.5,"v":0.0025},{"w":0.006,"t":17.5,"v":0.0021},{"w":0.019,"t":17.5,"v":0.0017},{"w":0.032,"t":17.5,"v":0.0011},{"w":0.044,"t":17.5,"v":0.0009},{"w":0.057,"t":17.5,"v":0.0007},{"w":0.069,"t":17.5,"v":0.0005},{"w":0.082,"t":17.5,"v":0.0005},{"w":0.095,"t":17.5,"v":0.0003},{"w":0.107,"t":17.5,"v":0.0003},{"w":0.12,"t":17.5,"v":0.0003},{"w":0.133,"t":17.5,"v":0.0003},{"w":0.145,"t":17.5,"v":0.0003},{"w":0.158,"t":17.5,"v":0.0003},{"w":0.171,"t":17.5,"v":0.0003},{"w":0.183,"t":17.5,"v":0.0003},{"w":0.196,"t":17.5,"v":0.0003},{"w":0.208,"t":17.5,"v":0.0003},{"w":0.221,"t":17.5,"v":0.0003},{"w":0.234,"t":17.5,"v":0.0003},
{"w":-0.158,"t":18.5,"v":0.0003},{"w":-0.145,"t":18.5,"v":0.0003},{"w":-0.133,"t":18.5,"v":0.0003},{"w":-0.12,"t":18.5,"v":0.0003},{"w":-0.107,"t":18.5,"v":0.0003},{"w":-0.095,"t":18.5,"v":0.0003},{"w":-0.082,"t":18.5,"v":0.0005},{"w":-0.069,"t":18.5,"v":0.0007},{"w":-0.057,"t":18.5,"v":0.0009},{"w":-0.044,"t":18.5,"v":0.0013},{"w":-0.032,"t":18.5,"v":0.0021},{"w":-0.019,"t":18.5,"v":0.0021},{"w":-0.006,"t":18.5,"v":0.0021},{"w":0.006,"t":18.5,"v":0.0021},{"w":0.019,"t":18.5,"v":0.0017},{"w":0.032,"t":18.5,"v":0.0011},{"w":0.044,"t":18.5,"v":0.0009},{"w":0.057,"t":18.5,"v":0.0007},{"w":0.069,"t":18.5,"v":0.0005},{"w":0.082,"t":18.5,"v":0.0003},{"w":0.095,"t":18.5,"v":0.0003},{"w":0.107,"t":18.5,"v":0.0003},{"w":0.12,"t":18.5,"v":0.0003},{"w":0.133,"t":18.5,"v":0.0003},{"w":0.145,"t":18.5,"v":0.0003},{"w":0.158,"t":18.5,"v":0.0003},{"w":0.171,"t":18.5,"v":0.0003},{"w":0.183,"t":18.5,"v":0.0005},{"w":0.196,"t":18.5,"v":0.0003},{"w":0.208,"t":18.5,"v":0.0003},{"w":0.221,"t":18.5,"v":0.0003},{"w":0.234,"t":18.5,"v":0.0003},
{"w":-0.145,"t":19.5,"v":0.0003},{"w":-0.133,"t":19.5,"v":0.0003},{"w":-0.12,"t":19.5,"v":0.0003},{"w":-0.107,"t":19.5,"v":0.0003},{"w":-0.095,"t":19.5,"v":0.0003},{"w":-0.082,"t":19.5,"v":0.0005},{"w":-0.069,"t":19.5,"v":0.0005},{"w":-0.057,"t":19.5,"v":0.0009},{"w":-0.044,"t":19.5,"v":0.0011},{"w":-0.032,"t":19.5,"v":0.0019},{"w":-0.019,"t":19.5,"v":0.0021},{"w":-0.006,"t":19.5,"v":0.0021},{"w":0.006,"t":19.5,"v":0.0019},{"w":0.019,"t":19.5,"v":0.0015},{"w":0.032,"t":19.5,"v":0.0011},{"w":0.044,"t":19.5,"v":0.0009},{"w":0.057,"t":19.5,"v":0.0005},{"w":0.069,"t":19.5,"v":0.0005},{"w":0.082,"t":19.5,"v":0.0003},{"w":0.095,"t":19.5,"v":0.0003},{"w":0.107,"t":19.5,"v":0.0003},{"w":0.12,"t":19.5,"v":0.0003},{"w":0.133,"t":19.5,"v":0.0003},{"w":0.145,"t":19.5,"v":0.0003},{"w":0.158,"t":19.5,"v":0.0003},{"w":0.171,"t":19.5,"v":0.0003},{"w":0.221,"t":19.5,"v":0.0003},{"w":0.234,"t":19.5,"v":0.0003},
{"w":-0.12,"t":20.5,"v":0.0003},{"w":-0.107,"t":20.5,"v":0.0003},{"w":-0.095,"t":20.5,"v":0.0003},{"w":-0.082,"t":20.5,"v":0.0003},{"w":-0.069,"t":20.5,"v":0.0005},{"w":-0.057,"t":20.5,"v":0.0007},{"w":-0.044,"t":20.5,"v":0.0011},{"w":-0.032,"t":20.5,"v":0.0017},{"w":-0.019,"t":20.5,"v":0.0019},{"w":-0.006,"t":20.5,"v":0.0019},{"w":0.006,"t":20.5,"v":0.0021},{"w":0.019,"t":20.5,"v":0.0015},{"w":0.032,"t":20.5,"v":0.0011},{"w":0.044,"t":20.5,"v":0.0007},{"w":0.057,"t":20.5,"v":0.0005},{"w":0.069,"t":20.5,"v":0.0005},{"w":0.082,"t":20.5,"v":0.0003},{"w":0.095,"t":20.5,"v":0.0003},{"w":0.107,"t":20.5,"v":0.0003},{"w":0.12,"t":20.5,"v":0.0003},{"w":0.133,"t":20.5,"v":0.0003},{"w":0.145,"t":20.5,"v":0.0003},{"w":0.221,"t":20.5,"v":0.0003},{"w":0.234,"t":20.5,"v":0.0003},
{"w":-0.107,"t":21.5,"v":0.0003},{"w":-0.095,"t":21.5,"v":0.0003},{"w":-0.082,"t":21.5,"v":0.0003},{"w":-0.069,"t":21.5,"v":0.0005},{"w":-0.057,"t":21.5,"v":0.0007},{"w":-0.044,"t":21.5,"v":0.0011},{"w":-0.032,"t":21.5,"v":0.0015},{"w":-0.019,"t":21.5,"v":0.0019},{"w":-0.006,"t":21.5,"v":0.0019},{"w":0.006,"t":21.5,"v":0.0019},{"w":0.019,"t":21.5,"v":0.0013},{"w":0.032,"t":21.5,"v":0.0011},{"w":0.044,"t":21.5,"v":0.0007},{"w":0.057,"t":21.5,"v":0.0005},{"w":0.069,"t":21.5,"v":0.0003},{"w":0.082,"t":21.5,"v":0.0003},{"w":0.095,"t":21.5,"v":0.0003},{"w":0.107,"t":21.5,"v":0.0003},{"w":0.12,"t":21.5,"v":0.0003},
{"w":-0.095,"t":22.5,"v":0.0003},{"w":-0.082,"t":22.5,"v":0.0003},{"w":-0.069,"t":22.5,"v":0.0005},{"w":-0.057,"t":22.5,"v":0.0007},{"w":-0.044,"t":22.5,"v":0.0009},{"w":-0.032,"t":22.5,"v":0.0013},{"w":-0.019,"t":22.5,"v":0.0017},{"w":-0.006,"t":22.5,"v":0.0017},{"w":0.006,"t":22.5,"v":0.0019},{"w":0.019,"t":22.5,"v":0.0013},{"w":0.032,"t":22.5,"v":0.0009},{"w":0.044,"t":22.5,"v":0.0007},{"w":0.057,"t":22.5,"v":0.0005},{"w":0.069,"t":22.5,"v":0.0003},{"w":0.082,"t":22.5,"v":0.0003},{"w":0.095,"t":22.5,"v":0.0003},
{"w":-0.082,"t":23.5,"v":0.0003},{"w":-0.069,"t":23.5,"v":0.0003},{"w":-0.057,"t":23.5,"v":0.0005},{"w":-0.044,"t":23.5,"v":0.0007},{"w":-0.032,"t":23.5,"v":0.0011},{"w":-0.019,"t":23.5,"v":0.0015},{"w":-0.006,"t":23.5,"v":0.0017},{"w":0.006,"t":23.5,"v":0.0017},{"w":0.019,"t":23.5,"v":0.0013},{"w":0.032,"t":23.5,"v":0.0009},{"w":0.044,"t":23.5,"v":0.0007},{"w":0.057,"t":23.5,"v":0.0005},{"w":0.069,"t":23.5,"v":0.0005},{"w":0.082,"t":23.5,"v":0.0003},
{"w":-0.082,"t":24.5,"v":0.0003},{"w":-0.069,"t":24.5,"v":0.0003},{"w":-0.057,"t":24.5,"v":0.0005},{"w":-0.044,"t":24.5,"v":0.0007},{"w":-0.032,"t":24.5,"v":0.0011},{"w":-0.019,"t":24.5,"v":0.0015},{"w":-0.006,"t":24.5,"v":0.0015},{"w":0.006,"t":24.5,"v":0.0015},{"w":0.019,"t":24.5,"v":0.0011},{"w":0.032,"t":24.5,"v":0.0009},{"w":0.044,"t":24.5,"v":0.0005},{"w":0.057,"t":24.5,"v":0.0003},{"w":0.069,"t":24.5,"v":0.0003},{"w":0.082,"t":24.5,"v":0.0003},{"w":0.095,"t":24.5,"v":0.0003},
{"w":-0.069,"t":25.5,"v":0.0003},{"w":-0.057,"t":25.5,"v":0.0003},{"w":-0.044,"t":25.5,"v":0.0007},{"w":-0.032,"t":25.5,"v":0.0009},{"w":-0.019,"t":25.5,"v":0.0013},{"w":-0.006,"t":25.5,"v":0.0013},{"w":0.006,"t":25.5,"v":0.0013},{"w":0.019,"t":25.5,"v":0.0011},{"w":0.032,"t":25.5,"v":0.0007},{"w":0.044,"t":25.5,"v":0.0005},{"w":0.057,"t":25.5,"v":0.0005},{"w":0.069,"t":25.5,"v":0.0003},{"w":0.082,"t":25.5,"v":0.0003},
{"w":-0.069,"t":26.5,"v":0.0003},{"w":-0.057,"t":26.5,"v":0.0003},{"w":-0.044,"t":26.5,"v":0.0005},{"w":-0.032,"t":26.5,"v":0.0009},{"w":-0.019,"t":26.5,"v":0.0013},{"w":-0.006,"t":26.5,"v":0.0013},{"w":0.006,"t":26.5,"v":0.0013},{"w":0.019,"t":26.5,"v":0.0011},{"w":0.032,"t":26.5,"v":0.0007},{"w":0.044,"t":26.5,"v":0.0005},{"w":0.057,"t":26.5,"v":0.0003},{"w":0.069,"t":26.5,"v":0.0003},{"w":0.082,"t":26.5,"v":0.0003},
{"w":-0.057,"t":27.5,"v":0.0003},{"w":-0.044,"t":27.5,"v":0.0005},{"w":-0.032,"t":27.5,"v":0.0011},{"w":-0.019,"t":27.5,"v":0.0011},{"w":-0.006,"t":27.5,"v":0.0013},{"w":0.006,"t":27.5,"v":0.0013},{"w":0.019,"t":27.5,"v":0.0009},{"w":0.032,"t":27.5,"v":0.0007},{"w":0.044,"t":27.5,"v":0.0005},{"w":0.057,"t":27.5,"v":0.0003},{"w":0.069,"t":27.5,"v":0.0003},{"w":0.171,"t":27.5,"v":0.0003},
{"w":-0.057,"t":28.5,"v":0.0003},{"w":-0.044,"t":28.5,"v":0.0005},{"w":-0.032,"t":28.5,"v":0.0007},{"w":-0.019,"t":28.5,"v":0.0009},{"w":-0.006,"t":28.5,"v":0.0011},{"w":0.006,"t":28.5,"v":0.0009},{"w":0.019,"t":28.5,"v":0.0007},{"w":0.032,"t":28.5,"v":0.0005},{"w":0.044,"t":28.5,"v":0.0003},{"w":0.057,"t":28.5,"v":0.0003},{"w":0.069,"t":28.5,"v":0.0003},
{"w":-0.044,"t":29.5,"v":0.0003},{"w":-0.032,"t":29.5,"v":0.0007},{"w":-0.019,"t":29.5,"v":0.0007},{"w":-0.006,"t":29.5,"v":0.0009},{"w":0.006,"t":29.5,"v":0.0009},{"w":0.019,"t":29.5,"v":0.0007},{"w":0.032,"t":29.5,"v":0.0005},{"w":0.044,"t":29.5,"v":0.0003},{"w":0.057,"t":29.5,"v":0.0003},{"w":0.133,"t":29.5,"v":0.0003},
{"w":-0.044,"t":30.5,"v":0.0003},{"w":-0.032,"t":30.5,"v":0.0005},{"w":-0.019,"t":30.5,"v":0.0007},{"w":-0.006,"t":30.5,"v":0.0007},{"w":0.006,"t":30.5,"v":0.0007},{"w":0.019,"t":30.5,"v":0.0007},{"w":0.032,"t":30.5,"v":0.0005},{"w":0.044,"t":30.5,"v":0.0003},{"w":0.057,"t":30.5,"v":0.0003},{"w":0.12,"t":30.5,"v":0.0003},
{"w":-0.044,"t":31.5,"v":0.0003},{"w":-0.032,"t":31.5,"v":0.0005},{"w":-0.019,"t":31.5,"v":0.0007},{"w":-0.006,"t":31.5,"v":0.0007},{"w":0.006,"t":31.5,"v":0.0007},{"w":0.019,"t":31.5,"v":0.0005},{"w":0.032,"t":31.5,"v":0.0003},{"w":0.044,"t":31.5,"v":0.0003},
{"w":-0.044,"t":32.5,"v":0.0003},{"w":-0.032,"t":32.5,"v":0.0005},{"w":-0.019,"t":32.5,"v":0.0005},{"w":-0.006,"t":32.5,"v":0.0007},{"w":0.006,"t":32.5,"v":0.0005},{"w":0.019,"t":32.5,"v":0.0005},{"w":0.032,"t":32.5,"v":0.0003},{"w":0.044,"t":32.5,"v":0.0003},
{"w":-0.044,"t":33.5,"v":0.0003},{"w":-0.032,"t":33.5,"v":0.0003},{"w":-0.019,"t":33.5,"v":0.0005},{"w":-0.006,"t":33.5,"v":0.0005},{"w":0.006,"t":33.5,"v":0.0005},{"w":0.019,"t":33.5,"v":0.0005},{"w":0.032,"t":33.5,"v":0.0003},{"w":0.044,"t":33.5,"v":0.0003},
{"w":-0.032,"t":34.5,"v":0.0003},{"w":-0.019,"t":34.5,"v":0.0005},{"w":-0.006,"t":34.5,"v":0.0005},{"w":0.006,"t":34.5,"v":0.0005},{"w":0.019,"t":34.5,"v":0.0003},{"w":0.032,"t":34.5,"v":0.0003},
{"w":-0.032,"t":35.5,"v":0.0003},{"w":-0.019,"t":35.5,"v":0.0003},{"w":-0.006,"t":35.5,"v":0.0005},{"w":0.006,"t":35.5,"v":0.0005},{"w":0.019,"t":35.5,"v":0.0003},
{"w":-0.019,"t":36.5,"v":0.0003},{"w":-0.006,"t":36.5,"v":0.0005},{"w":0.006,"t":36.5,"v":0.0003},{"w":0.019,"t":36.5,"v":0.0003},
{"w":-0.019,"t":37.5,"v":0.0003},{"w":-0.006,"t":37.5,"v":0.0003},{"w":0.006,"t":37.5,"v":0.0003},{"w":0.019,"t":37.5,"v":0.0003},{"w":0.082,"t":37.5,"v":0.0003},
{"w":-0.006,"t":38.5,"v":0.0003},{"w":0.006,"t":38.5,"v":0.0003},
{"w":-0.006,"t":39.5,"v":0.0003},
{"w":-0.234,"t":44.5,"v":0},{"w":-0.183,"t":46.5,"v":0},{"w":-0.044,"t":44.5,"v":0},{"w":-0.032,"t":45.5,"v":0},{"w":-0.019,"t":46.5,"v":0},{"w":-0.006,"t":46.5,"v":0},{"w":0.019,"t":46.5,"v":0}
    ]
  },
  "spacing": 0,
  "bounds": "flush",
  "columns": 2,
  "concat": [
    {
      "width": 388, "height": 205,
      "view": {"fill": "#6300ff", "stroke": "black"},
      "layer": [
        {"data": {"name": "hL"}, "mark": {"type": "rect", "clip": true},
         "encoding": {
           "x": {"field": "w", "type": "quantitative", "bin": {"extent": [-0.24, 0.24], "step": 0.0126315789, "nice": false}, "scale": {"domain": [-0.24, 0.24], "nice": false, "zero": false},
                 "axis": {"orient": "bottom", "title": null, "labels": false, "values": [-0.24,-0.23,-0.22,-0.21,-0.2,-0.19,-0.18,-0.17,-0.16,-0.15,-0.14,-0.13,-0.12,-0.11,-0.1,-0.09,-0.08,-0.07,-0.06,-0.05,-0.04,-0.03,-0.02,-0.01,0,0.01,0.02,0.03,0.04,0.05,0.06,0.07,0.08,0.09,0.1,0.11,0.12,0.13,0.14,0.15,0.16,0.17,0.18,0.19,0.2,0.21,0.22,0.23,0.24],
                          "tickSize": {"condition": {"test": "abs(datum.value*20-round(datum.value*20)) < 0.001", "value": -7}, "value": -3.5}}},
           "y": {"field": "t", "type": "quantitative", "bin": {"extent": [4, 48], "step": 2, "nice": false}, "scale": {"domain": [3.5, 47.2], "nice": false, "zero": false},
                 "axis": {"orient": "left", "values": [4,5,6,7,8,9,10,11,12,13,14,15,16,17,18,19,20,21,22,23,24,25,26,27,28,29,30,31,32,33,34,35,36,37,38,39,40,41,42,43,44,45,46,47],
                          "labelExpr": "datum.value % 5 == 0 ? datum.label : ''", "labelPadding": 12,
                          "tickSize": {"condition": {"test": "datum.value % 5 == 0", "value": -10}, "value": -5},
                          "title": "t [fm/c]", "titleFontSize": 18, "titleX": -33, "titleY": -13, "titleAngle": -90, "titleAlign": "right", "titleBaseline": "alphabetic"}},
           "color": {"condition": {"test": "datum.v == 0", "value": "white"}, "field": "v", "type": "quantitative",
                     "scale": {"type": "quantize", "domain": [0, 0.00404], "range": ["#6300ff","#3300ff","#0014ff","#0044ff","#008bff","#00bbff","#00fffb","#00ffcc","#00ff85","#00ff55","#00ff0e","#22ff00","#69ff00","#99ff00","#e0ff00","#ffee00","#ffa700","#ff7700","#ff3000","#ff0000"]},
                     "legend": {"orient": "none", "legendX": 756, "legendY": 0, "direction": "vertical", "padding": 0, "title": null,
                                "gradientLength": 205, "gradientThickness": 20, "gradientStrokeWidth": 0,
                                "values": [0,0.0001,0.0002,0.0003,0.0004,0.0005,0.0006,0.0007,0.0008,0.0009,0.001,0.0011,0.0012,0.0013,0.0014,0.0015,0.0016,0.0017,0.0018,0.0019,0.002,0.0021,0.0022,0.0023,0.0024,0.0025,0.0026,0.0027,0.0028,0.0029,0.003,0.0031,0.0032,0.0033,0.0034,0.0035,0.0036,0.0037,0.0038,0.0039,0.004],
                                "labelExpr": "(datum.value > 0 && abs(datum.value*2000 - round(datum.value*2000)) < 0.01) ? datum.label : ''",
                                "labelFontSize": 7.5, "labelColor": "black", "labelOffset": 2, "labelOverlap": false, "format": "~g"}}
         }},
        {"data": {"name": "hL"}, "mark": {"type": "point", "opacity": 0},
         "encoding": {
           "x": {"field": "w", "type": "quantitative", "scale": {"domain": [-0.24, 0.24], "nice": false, "zero": false},
                 "axis": {"orient": "top", "title": null, "labels": false, "values": [-0.24,-0.23,-0.22,-0.21,-0.2,-0.19,-0.18,-0.17,-0.16,-0.15,-0.14,-0.13,-0.12,-0.11,-0.1,-0.09,-0.08,-0.07,-0.06,-0.05,-0.04,-0.03,-0.02,-0.01,0,0.01,0.02,0.03,0.04,0.05,0.06,0.07,0.08,0.09,0.1,0.11,0.12,0.13,0.14,0.15,0.16,0.17,0.18,0.19,0.2,0.21,0.22,0.23,0.24],
                          "tickSize": {"condition": {"test": "abs(datum.value*20-round(datum.value*20)) < 0.001", "value": -7}, "value": -3.5}}},
           "y": {"field": "t", "type": "quantitative", "scale": {"domain": [3.5, 47.2], "nice": false, "zero": false},
                 "axis": {"orient": "right", "title": null, "labels": false, "values": [4,5,6,7,8,9,10,11,12,13,14,15,16,17,18,19,20,21,22,23,24,25,26,27,28,29,30,31,32,33,34,35,36,37,38,39,40,41,42,43,44,45,46,47],
                          "tickSize": {"condition": {"test": "datum.value % 5 == 0", "value": -10}, "value": -5}}}
         }},
        {"data": {"values": [{}]}, "mark": {"type": "rule", "strokeDash": [12, 4], "strokeWidth": 1.6, "color": "black"},
         "encoding": {"x": {"datum": 0, "axis": null}}},
        {"data": {"values": [{}]}, "mark": {"type": "text", "align": "right", "baseline": "alphabetic", "color": "white", "fontSize": 15.5, "font": "Liberation Sans"},
         "encoding": {"x": {"datum": 0.2203, "axis": null}, "y": {"datum": 41.9, "axis": null}, "text": {"value": "Au+Au, √s = 7.7 GeV"}}}
      ],
      "resolve": {"axis": {"x": "independent", "y": "independent"}}
    },
    {
      "width": 368, "height": 205,
      "view": {"fill": "#6300ff", "stroke": "black"},
      "layer": [
        {"data": {"name": "hA"}, "mark": {"type": "rect", "clip": true},
         "encoding": {
           "x": {"field": "w", "type": "quantitative", "bin": {"extent": [-0.24, 0.24], "step": 0.0126315789, "nice": false}, "scale": {"domain": [-0.24, 0.24], "nice": false, "zero": false},
                 "axis": {"orient": "bottom", "title": null, "labels": false, "values": [-0.24,-0.23,-0.22,-0.21,-0.2,-0.19,-0.18,-0.17,-0.16,-0.15,-0.14,-0.13,-0.12,-0.11,-0.1,-0.09,-0.08,-0.07,-0.06,-0.05,-0.04,-0.03,-0.02,-0.01,0,0.01,0.02,0.03,0.04,0.05,0.06,0.07,0.08,0.09,0.1,0.11,0.12,0.13,0.14,0.15,0.16,0.17,0.18,0.19,0.2,0.21,0.22,0.23,0.24],
                          "tickSize": {"condition": {"test": "abs(datum.value*20-round(datum.value*20)) < 0.001", "value": -7}, "value": -3.5}}},
           "y": {"field": "t", "type": "quantitative", "bin": {"extent": [3, 48], "step": 1, "nice": false}, "scale": {"domain": [3.5, 47.2], "nice": false, "zero": false},
                 "axis": {"orient": "left", "title": null, "labels": false, "values": [4,5,6,7,8,9,10,11,12,13,14,15,16,17,18,19,20,21,22,23,24,25,26,27,28,29,30,31,32,33,34,35,36,37,38,39,40,41,42,43,44,45,46,47],
                          "tickSize": {"condition": {"test": "datum.value % 5 == 0", "value": -10}, "value": -5}}},
           "color": {"condition": {"test": "datum.v == 0", "value": "white"}, "field": "v", "type": "quantitative",
                     "scale": {"type": "quantize", "domain": [0, 0.00404], "range": ["#6300ff","#3300ff","#0014ff","#0044ff","#008bff","#00bbff","#00fffb","#00ffcc","#00ff85","#00ff55","#00ff0e","#22ff00","#69ff00","#99ff00","#e0ff00","#ffee00","#ffa700","#ff7700","#ff3000","#ff0000"]}}
         }},
        {"data": {"name": "hA"}, "mark": {"type": "point", "opacity": 0},
         "encoding": {
           "x": {"field": "w", "type": "quantitative", "scale": {"domain": [-0.24, 0.24], "nice": false, "zero": false},
                 "axis": {"orient": "top", "title": null, "labels": false, "values": [-0.24,-0.23,-0.22,-0.21,-0.2,-0.19,-0.18,-0.17,-0.16,-0.15,-0.14,-0.13,-0.12,-0.11,-0.1,-0.09,-0.08,-0.07,-0.06,-0.05,-0.04,-0.03,-0.02,-0.01,0,0.01,0.02,0.03,0.04,0.05,0.06,0.07,0.08,0.09,0.1,0.11,0.12,0.13,0.14,0.15,0.16,0.17,0.18,0.19,0.2,0.21,0.22,0.23,0.24],
                          "tickSize": {"condition": {"test": "abs(datum.value*20-round(datum.value*20)) < 0.001", "value": -7}, "value": -3.5}}},
           "y": {"field": "t", "type": "quantitative", "scale": {"domain": [3.5, 47.2], "nice": false, "zero": false},
                 "axis": {"orient": "right", "labels": false, "values": [4,5,6,7,8,9,10,11,12,13,14,15,16,17,18,19,20,21,22,23,24,25,26,27,28,29,30,31,32,33,34,35,36,37,38,39,40,41,42,43,44,45,46,47],
                          "tickSize": {"condition": {"test": "datum.value % 5 == 0", "value": -10}, "value": -5},
                          "title": "dN/Nₜₒₜdϖzₓ", "titleFontSize": 17, "titleAngle": 0, "titleX": 47, "titleY": -9, "titleAlign": "right", "titleBaseline": "alphabetic"}}
         }},
        {"data": {"values": [{}]}, "mark": {"type": "rule", "strokeDash": [12, 4], "strokeWidth": 1.6, "color": "black"},
         "encoding": {"x": {"datum": 0, "axis": null}}},
        {"data": {"values": [{}]}, "mark": {"type": "text", "align": "right", "baseline": "alphabetic", "color": "white", "fontSize": 15.5, "font": "Liberation Sans"},
         "encoding": {"x": {"datum": 0.225, "axis": null}, "y": {"datum": 42.1, "axis": null}, "text": {"value": "b = 6 fm, UrQMD-3.4"}}}
      ],
      "resolve": {"axis": {"x": "independent", "y": "independent"}}
    },
    {
      "width": 388, "height": 197,
      "layer": [
        {"data": {"name": "lam"}, "mark": {"type": "point", "shape": "cross", "filled": true, "size": 150, "color": "#0000ff", "opacity": 1, "strokeWidth": 0},
         "encoding": {
           "x": {"field": "w", "type": "quantitative", "scale": {"domain": [-0.24, 0.24], "nice": false, "zero": false},
                 "axis": {"orient": "bottom", "title": null, "values": [-0.24,-0.23,-0.22,-0.21,-0.2,-0.19,-0.18,-0.17,-0.16,-0.15,-0.14,-0.13,-0.12,-0.11,-0.1,-0.09,-0.08,-0.07,-0.06,-0.05,-0.04,-0.03,-0.02,-0.01,0,0.01,0.02,0.03,0.04,0.05,0.06,0.07,0.08,0.09,0.1,0.11,0.12,0.13,0.14,0.15,0.16,0.17,0.18,0.19,0.2,0.21,0.22,0.23,0.24],
                          "labelExpr": "abs(datum.value*20-round(datum.value*20)) < 0.001 ? datum.label : ''", "labelPadding": 10,
                          "tickSize": {"condition": {"test": "abs(datum.value*20-round(datum.value*20)) < 0.001", "value": -7}, "value": -3.5}}},
           "y": {"field": "n", "type": "quantitative", "scale": {"domain": [0, 0.1063], "nice": false, "zero": false},
                 "axis": {"orient": "left", "values": [0,0.005,0.01,0.015,0.02,0.025,0.03,0.035,0.04,0.045,0.05,0.055,0.06,0.065,0.07,0.075,0.08,0.085,0.09,0.095,0.1,0.105],
                          "labelExpr": "abs(datum.value*50-round(datum.value*50)) < 0.001 ? datum.label : ''", "labelPadding": 12,
                          "tickSize": {"condition": {"test": "abs(datum.value*50-round(datum.value*50)) < 0.001", "value": -10}, "value": -5},
                          "title": "dN/Nₜₒₜdϖzₓ", "titleFontSize": 19, "titleX": -33, "titleY": 1, "titleAngle": -90, "titleAlign": "right", "titleBaseline": "alphabetic"}}
         }},
        {"data": {"name": "lam"}, "mark": {"type": "point", "opacity": 0},
         "encoding": {
           "x": {"field": "w", "type": "quantitative", "scale": {"domain": [-0.24, 0.24], "nice": false, "zero": false},
                 "axis": {"orient": "top", "title": null, "labels": false, "values": [-0.24,-0.23,-0.22,-0.21,-0.2,-0.19,-0.18,-0.17,-0.16,-0.15,-0.14,-0.13,-0.12,-0.11,-0.1,-0.09,-0.08,-0.07,-0.06,-0.05,-0.04,-0.03,-0.02,-0.01,0,0.01,0.02,0.03,0.04,0.05,0.06,0.07,0.08,0.09,0.1,0.11,0.12,0.13,0.14,0.15,0.16,0.17,0.18,0.19,0.2,0.21,0.22,0.23,0.24],
                          "tickSize": {"condition": {"test": "abs(datum.value*20-round(datum.value*20)) < 0.001", "value": -7}, "value": -3.5}}},
           "y": {"field": "n", "type": "quantitative", "scale": {"domain": [0, 0.1063], "nice": false, "zero": false},
                 "axis": {"orient": "right", "title": null, "labels": false, "values": [0,0.005,0.01,0.015,0.02,0.025,0.03,0.035,0.04,0.045,0.05,0.055,0.06,0.065,0.07,0.075,0.08,0.085,0.09,0.095,0.1,0.105],
                          "tickSize": {"condition": {"test": "abs(datum.value*50-round(datum.value*50)) < 0.001", "value": -10}, "value": -5}}}
         }},
        {"data": {"values": [{}]}, "mark": {"type": "rule", "strokeDash": [12, 4], "strokeWidth": 1.6, "color": "black"},
         "encoding": {"x": {"datum": 0, "axis": null}}},
        {"data": {"values": [{}]}, "mark": {"type": "text", "align": "right", "baseline": "alphabetic", "color": "black", "fontSize": 22, "font": "Liberation Serif"},
         "encoding": {"x": {"datum": 0.2235, "axis": null}, "y": {"datum": 0.0914, "axis": null}, "text": {"value": "Λ"}}}
      ],
      "resolve": {"axis": {"x": "independent", "y": "independent"}}
    },
    {
      "width": 368, "height": 197,
      "layer": [
        {"data": {"name": "alam"}, "mark": {"type": "point", "shape": "cross", "filled": true, "size": 150, "color": "#0000ff", "opacity": 1, "strokeWidth": 0},
         "encoding": {
           "x": {"field": "w", "type": "quantitative", "scale": {"domain": [-0.24, 0.24], "nice": false, "zero": false},
                 "axis": {"orient": "bottom", "values": [-0.24,-0.23,-0.22,-0.21,-0.2,-0.19,-0.18,-0.17,-0.16,-0.15,-0.14,-0.13,-0.12,-0.11,-0.1,-0.09,-0.08,-0.07,-0.06,-0.05,-0.04,-0.03,-0.02,-0.01,0,0.01,0.02,0.03,0.04,0.05,0.06,0.07,0.08,0.09,0.1,0.11,0.12,0.13,0.14,0.15,0.16,0.17,0.18,0.19,0.2,0.21,0.22,0.23,0.24],
                          "labelExpr": "abs(datum.value*20-round(datum.value*20)) < 0.001 ? datum.label : ''", "labelPadding": 10,
                          "tickSize": {"condition": {"test": "abs(datum.value*20-round(datum.value*20)) < 0.001", "value": -7}, "value": -3.5},
                          "title": "ϖzₓ", "titleFontSize": 18, "titleX": 368, "titleAlign": "right", "titleY": 25, "titleBaseline": "alphabetic"}},
           "y": {"field": "n", "type": "quantitative", "scale": {"domain": [0, 0.1063], "nice": false, "zero": false},
                 "axis": {"orient": "left", "title": null, "labels": false, "values": [0,0.005,0.01,0.015,0.02,0.025,0.03,0.035,0.04,0.045,0.05,0.055,0.06,0.065,0.07,0.075,0.08,0.085,0.09,0.095,0.1,0.105],
                          "tickSize": {"condition": {"test": "abs(datum.value*50-round(datum.value*50)) < 0.001", "value": -10}, "value": -5}}}
         }},
        {"data": {"name": "alam"}, "mark": {"type": "point", "opacity": 0},
         "encoding": {
           "x": {"field": "w", "type": "quantitative", "scale": {"domain": [-0.24, 0.24], "nice": false, "zero": false},
                 "axis": {"orient": "top", "title": null, "labels": false, "values": [-0.24,-0.23,-0.22,-0.21,-0.2,-0.19,-0.18,-0.17,-0.16,-0.15,-0.14,-0.13,-0.12,-0.11,-0.1,-0.09,-0.08,-0.07,-0.06,-0.05,-0.04,-0.03,-0.02,-0.01,0,0.01,0.02,0.03,0.04,0.05,0.06,0.07,0.08,0.09,0.1,0.11,0.12,0.13,0.14,0.15,0.16,0.17,0.18,0.19,0.2,0.21,0.22,0.23,0.24],
                          "tickSize": {"condition": {"test": "abs(datum.value*20-round(datum.value*20)) < 0.001", "value": -7}, "value": -3.5}}},
           "y": {"field": "n", "type": "quantitative", "scale": {"domain": [0, 0.1063], "nice": false, "zero": false},
                 "axis": {"orient": "right", "title": null, "labels": false, "values": [0,0.005,0.01,0.015,0.02,0.025,0.03,0.035,0.04,0.045,0.05,0.055,0.06,0.065,0.07,0.075,0.08,0.085,0.09,0.095,0.1,0.105],
                          "tickSize": {"condition": {"test": "abs(datum.value*50-round(datum.value*50)) < 0.001", "value": -10}, "value": -5}}}
         }},
        {"data": {"values": [{}]}, "mark": {"type": "rule", "strokeDash": [12, 4], "strokeWidth": 1.6, "color": "black"},
         "encoding": {"x": {"datum": 0, "axis": null}}},
        {"data": {"values": [{}]}, "mark": {"type": "text", "align": "right", "baseline": "alphabetic", "color": "black", "fontSize": 21, "font": "DejaVu Serif"},
         "encoding": {"x": {"datum": 0.2223, "axis": null}, "y": {"datum": 0.0903, "axis": null}, "text": {"value": "Λ̄"}}}
      ],
      "resolve": {"axis": {"x": "independent", "y": "independent"}}
    }
  ]
}
